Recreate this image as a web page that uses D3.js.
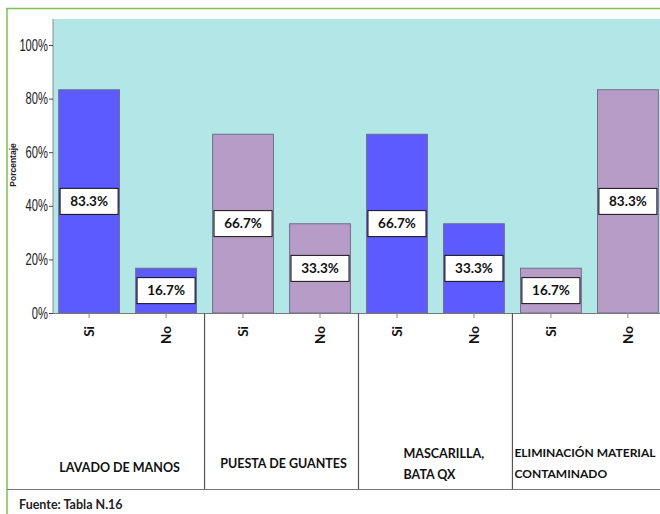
<!DOCTYPE html>
<html>
<head>
<meta charset="utf-8">
<script src="https://cdn.jsdelivr.net/npm/d3@7"></script>
<style>
  body { margin: 0; background: #fff; }
  svg { display: block; }
</style>
</head>
<body>
<script>
// data
const groups = ["LAVADO DE MANOS", "PUESTA DE GUANTES", "MASCARILLA, BATA QX", "ELIMINACIÓN MATERIAL CONTAMINADO"];
const groupLines = [["LAVADO DE MANOS"], ["PUESTA DE GUANTES"], ["MASCARILLA,", "BATA QX"], ["ELIMINACIÓN MATERIAL", "CONTAMINADO"]];
const answers = ["Si", "No"];
const siValues = [83.3, 66.7, 66.7, 16.7];
const noValues = [16.7, 33.3, 33.3, 83.3];
const yTicks = [0, 20, 40, 60, 80, 100];
const source = "Fuente: Tabla N.16";

const W = 660, H = 514;
const blue = "#5b5bff", purple = "#b89cc8";
const groupColor = [blue, purple, blue, purple];
const labelFont = "Lato, 'Open Sans', sans-serif";

let rows = [];
groups.forEach((g, i) => {
    rows.push({ group: i, answer: "Si", key: i + "-Si", value: siValues[i] });
    rows.push({ group: i, answer: "No", key: i + "-No", value: noValues[i] });
});

let svg = d3.select("body")
    .append("svg")
    .attr("width", W)
    .attr("height", H);

// frame
svg.append("line").attr("x1", 6).attr("x2", W).attr("y1", 8.5).attr("y2", 8.5)
    .attr("stroke", "#7dc24f").attr("stroke-width", 1.5);
svg.append("line").attr("x1", 7).attr("x2", 7).attr("y1", 8).attr("y2", H)
    .attr("stroke", "#7dc24f").attr("stroke-width", 1.5);
svg.append("line").attr("x1", 7).attr("x2", W).attr("y1", 489.5).attr("y2", 489.5)
    .attr("stroke", "#777").attr("stroke-width", 1.2);

let x = d3.scaleBand()
    .domain(rows.map(d => d.key))
    .range([51, 666])
    .paddingInner(0.21)
    .paddingOuter(0.1);

let y = d3.scaleLinear()
    .domain([0, 100])
    .range([313, 45]);

// plot background
svg.append("rect")
    .attr("x", 53).attr("y", 19)
    .attr("width", W - 53).attr("height", y(0) - 19)
    .attr("fill", "#b3e6e6");

// bars
svg.append("g").selectAll("rect")
    .data(rows)
    .enter()
    .append("rect")
    .attr("x", d => x(d.key))
    .attr("y", d => y(d.value))
    .attr("width", x.bandwidth())
    .attr("height", d => y(0) - y(d.value))
    .attr("fill", d => groupColor[d.group])
    .attr("stroke", "#6f6f8a")
    .attr("stroke-width", 1);

// value boxes
let boxes = svg.append("g").selectAll("g")
    .data(rows)
    .enter()
    .append("g")
    .attr("transform", d => "translate(" + (x(d.key) + x.bandwidth() / 2) + "," + ((y(0) + y(d.value)) / 2) + ")");

boxes.append("rect")
    .attr("x", -29).attr("y", -13)
    .attr("width", 58).attr("height", 26)
    .attr("fill", "#fff")
    .attr("stroke", "#111")
    .attr("stroke-width", 1);

boxes.append("text")
    .attr("text-anchor", "middle")
    .attr("dy", "0.36em")
    .attr("font-family", labelFont)
    .attr("font-weight", "bold")
    .attr("font-size", 13.5)
    .attr("fill", "#111")
    .text(d => d.value.toFixed(1) + "%");

// y axis
let yAxis = svg.append("g")
    .attr("transform", "translate(53,0)")
    .call(d3.axisLeft(y).tickValues(yTicks).tickSize(4).tickFormat(d => d + "%"));
yAxis.select(".domain").attr("stroke", "#888").attr("d", "M0,19V" + y(0));
yAxis.selectAll(".tick line").attr("stroke", "#444");
yAxis.selectAll(".tick text")
    .attr("transform", "scale(0.7,1)")
    .attr("x", -5 / 0.7)
    .attr("font-family", "'Liberation Sans', sans-serif")
    .attr("font-size", 16)
    .attr("fill", "#222");

svg.append("text")
    .attr("transform", "translate(16,165) rotate(-90)")
    .attr("text-anchor", "middle")
    .attr("font-family", "'Liberation Sans', sans-serif")
    .attr("font-weight", "bold")
    .attr("font-size", 8.5)
    .attr("fill", "#222")
    .text("Porcentaje");

// x axis
let xAxis = svg.append("g")
    .attr("transform", "translate(0," + y(0) + ")")
    .call(d3.axisBottom(x).tickSize(5).tickFormat(k => k.split("-")[1]));
xAxis.select(".domain").attr("stroke", "#777").attr("d", "M53,0.5H" + W);
xAxis.selectAll(".tick line").attr("stroke", "#888");
xAxis.selectAll(".tick text")
    .attr("transform", "rotate(-90)")
    .attr("x", -13).attr("y", 0).attr("dy", "0.35em")
    .attr("text-anchor", "end")
    .attr("font-family", labelFont)
    .attr("font-weight", "bold")
    .attr("font-size", 13.5)
    .attr("fill", "#111");

// group separators and labels
let step = x.step();
const labelShift = [-8, 2, 45, 2];
groups.forEach((g, i) => {
    let x0 = x(i + "-Si") - step * x.paddingInner() / 2;
    let x1 = x(i + "-No") + x.bandwidth() + step * x.paddingInner() / 2;
    if (i > 0) {
        svg.append("line")
            .attr("x1", x0).attr("x2", x0)
            .attr("y1", y(0)).attr("y2", 489)
            .attr("stroke", "#555").attr("stroke-width", 1.2);
    }
    let lines = groupLines[i];
    let anchorMid = lines.length === 1;
    let tx = anchorMid ? (x0 + x1) / 2 + labelShift[i] : x0 + labelShift[i];
    let ty = anchorMid ? (i === 0 ? 472 : 468) : (i === 2 ? 458 : 457);
    let t = svg.append("text")
        .attr("text-anchor", anchorMid ? "middle" : "start")
        .attr("font-family", labelFont)
        .attr("font-weight", "bold")
        .attr("font-size", i === 3 ? 12 : 12.5)
        .attr("fill", "#111");
    lines.forEach((l, j) => {
        t.append("tspan").attr("x", tx).attr("y", ty + j * 21).text(l);
    });
});

svg.append("text")
    .attr("x", 19).attr("y", 509)
    .attr("font-family", labelFont)
    .attr("font-weight", "bold")
    .attr("font-size", 12.5)
    .attr("fill", "#222")
    .text(source);
</script>
</body>
</html>
